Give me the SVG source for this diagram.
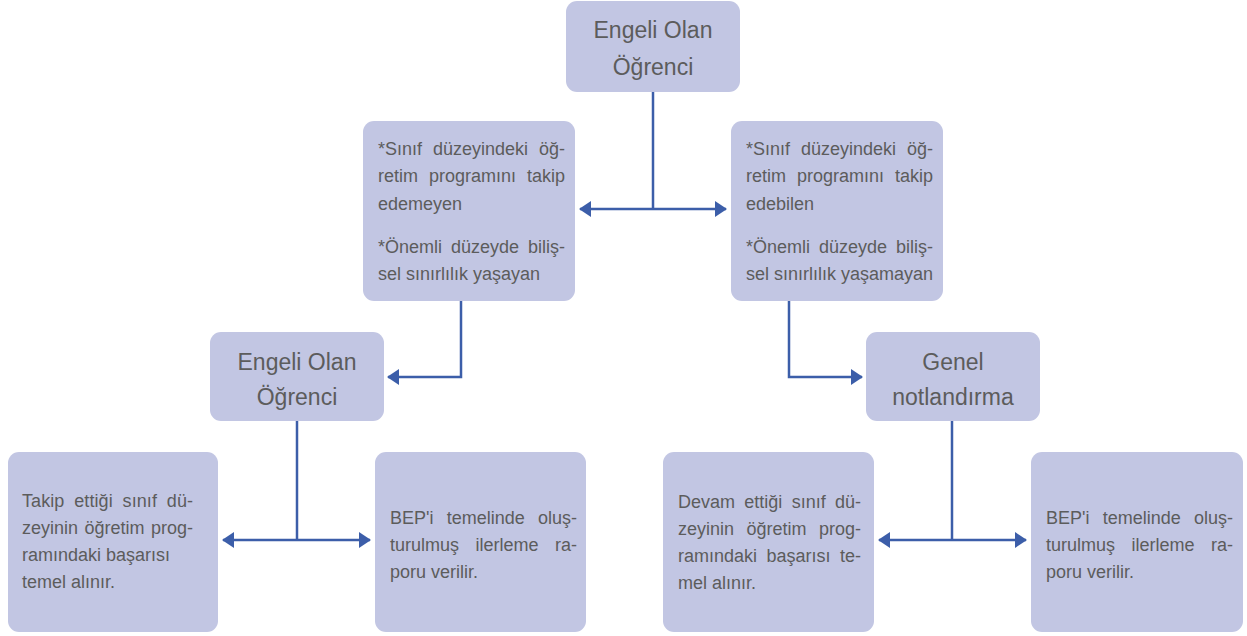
<svg xmlns="http://www.w3.org/2000/svg" width="1247" height="636" viewBox="0 0 1247 636">
<style>
.box{fill:#c2c6e3;}
.hd{font-family:"Liberation Sans",Arial,sans-serif;font-size:23px;fill:#5c5c5c;text-anchor:middle;}
.tx{font-family:"Liberation Sans",Arial,sans-serif;font-size:18px;fill:#5c5c5c;}
.cn{fill:none;stroke:#3c5ea9;stroke-width:2.5;}
</style>
<defs>
<marker id="ah" viewBox="0 0 12 16" refX="11" refY="8" markerUnits="userSpaceOnUse" markerWidth="12" markerHeight="16" orient="auto-start-reverse">
<path d="M0,0 L12,8 L0,16 Z" fill="#3c5ea9"/>
</marker>
</defs>
<g id="connectors">
<path class="cn" d="M653,92 V209"/>
<path class="cn" d="M580,209 H726" marker-start="url(#ah)" marker-end="url(#ah)"/>
<path class="cn" d="M461,301 V377 H388" marker-end="url(#ah)"/>
<path class="cn" d="M789,301 V377 H862" marker-end="url(#ah)"/>
<path class="cn" d="M297,421 V540"/>
<path class="cn" d="M223,540 H370" marker-start="url(#ah)" marker-end="url(#ah)"/>
<path class="cn" d="M952,421 V540"/>
<path class="cn" d="M879,540 H1026" marker-start="url(#ah)" marker-end="url(#ah)"/>
</g>
<g id="node-top">
<rect class="box" x="566" y="1" width="174" height="91" rx="11"/>
<text class="hd" x="653" y="38">Engeli Olan</text>
<text class="hd" x="653" y="75">Öğrenci</text>
</g>
<g id="node-mid-left">
<rect class="box" x="363" y="121" width="212" height="180" rx="11"/>
<text class="tx" x="378" y="155" word-spacing="6" textLength="187" lengthAdjust="spacing">*Sınıf düzeyindeki öğ-</text>
<text class="tx" x="378" y="182" word-spacing="6" textLength="187" lengthAdjust="spacing">retim programını takip</text>
<text class="tx" x="378" y="210">edemeyen</text>
<text class="tx" x="378" y="253" word-spacing="4" textLength="187" lengthAdjust="spacing">*Önemli düzeyde biliş-</text>
<text class="tx" x="378" y="280">sel sınırlılık yaşayan</text>
</g>
<g id="node-mid-right">
<rect class="box" x="731" y="121" width="212" height="180" rx="11"/>
<text class="tx" x="746" y="155" word-spacing="6" textLength="187" lengthAdjust="spacing">*Sınıf düzeyindeki öğ-</text>
<text class="tx" x="746" y="182" word-spacing="6" textLength="187" lengthAdjust="spacing">retim programını takip</text>
<text class="tx" x="746" y="210">edebilen</text>
<text class="tx" x="746" y="253" word-spacing="4" textLength="187" lengthAdjust="spacing">*Önemli düzeyde biliş-</text>
<text class="tx" x="746" y="280">sel sınırlılık yaşamayan</text>
</g>
<g id="node-engeli-left">
<rect class="box" x="210" y="332" width="174" height="89" rx="11"/>
<text class="hd" x="297" y="370">Engeli Olan</text>
<text class="hd" x="297" y="405">Öğrenci</text>
</g>
<g id="node-genel">
<rect class="box" x="866" y="332" width="174" height="89" rx="11"/>
<text class="hd" x="953" y="370">Genel</text>
<text class="hd" x="953" y="405">notlandırma</text>
</g>
<g id="node-bottom-1">
<rect class="box" x="8" y="452" width="210" height="180" rx="11"/>
<text class="tx" x="22" y="507" word-spacing="4.7" textLength="171" lengthAdjust="spacing">Takip ettiği sınıf dü-</text>
<text class="tx" x="22" y="534" word-spacing="1.5" textLength="171" lengthAdjust="spacing">zeyinin öğretim prog-</text>
<text class="tx" x="22" y="561">ramındaki başarısı</text>
<text class="tx" x="22" y="588">temel alınır.</text>
</g>
<g id="node-bottom-2">
<rect class="box" x="375" y="452" width="211" height="180" rx="11"/>
<text class="tx" x="390" y="524" word-spacing="8.2" textLength="187" lengthAdjust="spacing">BEP'i temelinde oluş-</text>
<text class="tx" x="390" y="551" word-spacing="11.5" textLength="187" lengthAdjust="spacing">turulmuş ilerleme ra-</text>
<text class="tx" x="390" y="578">poru verilir.</text>
</g>
<g id="node-bottom-3">
<rect class="box" x="663" y="452" width="211" height="180" rx="11"/>
<text class="tx" x="678" y="508" word-spacing="4.3" textLength="183" lengthAdjust="spacing">Devam ettiği sınıf dü-</text>
<text class="tx" x="678" y="535" word-spacing="7.5" textLength="183" lengthAdjust="spacing">zeyinin öğretim prog-</text>
<text class="tx" x="678" y="562" word-spacing="4.5" textLength="183" lengthAdjust="spacing">ramındaki başarısı te-</text>
<text class="tx" x="678" y="589">mel alınır.</text>
</g>
<g id="node-bottom-4">
<rect class="box" x="1031" y="452" width="212" height="180" rx="11"/>
<text class="tx" x="1046" y="524" word-spacing="8.2" textLength="187" lengthAdjust="spacing">BEP'i temelinde oluş-</text>
<text class="tx" x="1046" y="551" word-spacing="11.5" textLength="187" lengthAdjust="spacing">turulmuş ilerleme ra-</text>
<text class="tx" x="1046" y="578">poru verilir.</text>
</g>
</svg>
